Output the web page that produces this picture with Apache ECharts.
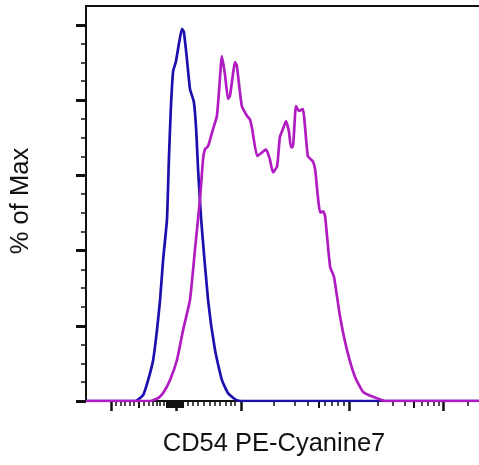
<!DOCTYPE html>
<html>
<head>
<meta charset="utf-8">
<script src="https://cdn.jsdelivr.net/npm/echarts@6/dist/echarts.min.js"></script>
<style>
html,body{margin:0;padding:0;background:#fff;}
#chart{width:479px;height:465px;}
</style>
</head>
<body>
<div id="chart"></div>
<script>
// x in display channels (0..1024), y in % of Max
const blueX = [0,128,149,162,175,185,193,201,211,216,221,227,234,242,250,255,263,271,281,287,292,300,318,336,354,370,391,406,1024];
const blueY = [0,0,1.6,5.6,10.9,18.9,26.9,37.6,48.3,64.3,77.6,87.7,90.1,94.9,98.9,98.1,90.9,82.9,79.5,72.3,61.6,48.3,26.9,13.6,5.6,2.1,0.3,0,0];

const magentaX = [0,167,188,201,219,237,253,271,284,297,305,310,318,331,341,347,354,362,370,375,383,388,393,406,420,427,433,446,459,469,479,487,498,505,513,521,529,534,539,547,555,565,578,591,597,610,618,623,636,646,662,680,701,722,748,779,1024];
const magentaY = [0,0,0.8,2.1,5.6,10.9,18.9,26.9,40.3,53.6,64.3,66.9,67.7,72.3,75.7,82.9,91.7,86.9,80.3,81.1,86.9,90.1,89.1,78.4,75.7,74.9,72.3,65.1,66.1,66.9,64.3,60.8,62.4,70.1,72.3,74.4,71.5,67.5,67.5,78.4,77.1,77.6,65.1,63.7,61.6,50.1,50.4,49.1,35.7,33.1,22.4,13.6,6.4,2.4,1.1,0,0];

const xMajorTicks = [65,235,404,685,930];
const xMediumTicks = [138,211,216,221,227,232,237,242,248,253,607,855];
const xMinorTicks = [78,91,102,115,125,151,164,175,185,193,203,266,279,292,307,323,336,349,365,378,388,490,545,578,623,641,657,672,761,800,831,875,891,907,920,995];

const yMajorTicks = [0,20,40,60,80,100];
const yMinorTicks = [5,10,15,25,30,35,45,50,55,65,70,75,85,90,95];

const xTitle = 'CD54 PE-Cyanine7';
const yTitle = '% of Max';

const zip = (xs, ys) => xs.map((x, i) => [x, ys[i]]);

const chart = echarts.init(document.getElementById('chart'), null, {renderer: 'canvas'});
const baseX = {type: 'value', min: 0, max: 1024, splitLine: {show: false}, axisLabel: {show: false}, gridIndex: 0};
const baseY = {type: 'value', min: 0, max: 105, splitLine: {show: false}, axisLabel: {show: false}, gridIndex: 0};
const font = '25.5px "Liberation Sans", Arial, sans-serif';
chart.setOption({
  animation: false,
  backgroundColor: '#ffffff',
  grid: {left: 86, top: 6, right: 0, bottom: 64, containLabel: false},
  xAxis: [
    Object.assign({}, baseX, {position: 'bottom', axisLine: {show: true, lineStyle: {color: '#111', width: 2}},
      axisTick: {show: true, inside: false, length: 10, customValues: xMajorTicks, lineStyle: {color: '#111', width: 2.5}}}),
    Object.assign({}, baseX, {position: 'bottom', axisLine: {show: false},
      axisTick: {show: true, inside: false, length: 7, customValues: xMediumTicks, lineStyle: {color: '#111', width: 2}}}),
    Object.assign({}, baseX, {position: 'bottom', axisLine: {show: false},
      axisTick: {show: true, inside: false, length: 5, customValues: xMinorTicks, lineStyle: {color: '#111', width: 1.5}}}),
    Object.assign({}, baseX, {position: 'top', axisLine: {show: true, lineStyle: {color: '#111', width: 2}}, axisTick: {show: false}})
  ],
  yAxis: [
    Object.assign({}, baseY, {position: 'left', axisLine: {show: true, lineStyle: {color: '#111', width: 2}},
      axisTick: {show: true, inside: false, length: 10, customValues: yMajorTicks, lineStyle: {color: '#111', width: 3}}}),
    Object.assign({}, baseY, {position: 'left', axisLine: {show: false},
      axisTick: {show: true, inside: false, length: 5, customValues: yMinorTicks, lineStyle: {color: '#111', width: 1.5}}})
  ],
  series: [
    {type: 'line', xAxisIndex: 0, yAxisIndex: 0, data: zip(blueX, blueY), showSymbol: false, smooth: 0.15,
      lineStyle: {color: '#1c0fae', width: 2.7}, z: 2},
    {type: 'line', xAxisIndex: 0, yAxisIndex: 0, data: zip(magentaX, magentaY), showSymbol: false, smooth: 0.15,
      lineStyle: {color: '#b01cc2', width: 2.7}, z: 3}
  ],
  graphic: [
    {type: 'text', x: 274, y: 431, style: {text: xTitle, font: font, fill: '#111', align: 'center', verticalAlign: 'top'}},
    {type: 'text', x: 8, y: 201, rotation: Math.PI / 2, style: {text: yTitle, font: font, fill: '#111', align: 'center', verticalAlign: 'top'}}
  ]
});
</script>
</body>
</html>
